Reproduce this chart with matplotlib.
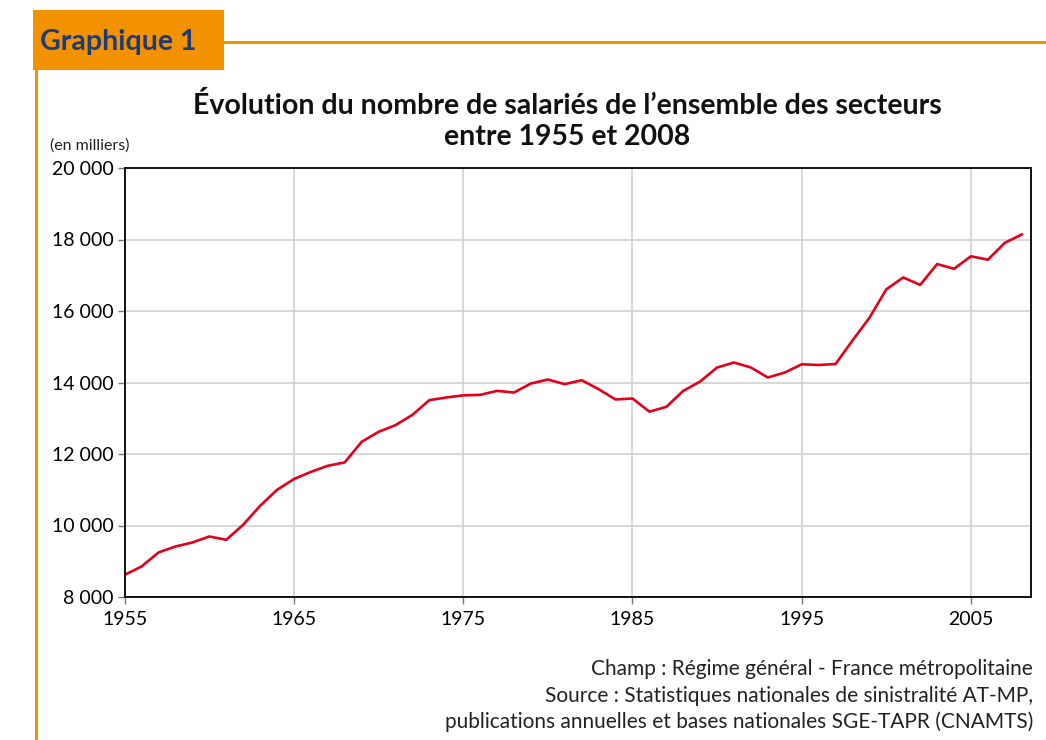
import matplotlib
matplotlib.use("Agg")
import matplotlib.pyplot as plt
from matplotlib.patches import Rectangle
from matplotlib.lines import Line2D
from matplotlib.ticker import FuncFormatter

# annual number of employees (thousands)
years = list(range(1955, 2009))
salaries = [8620, 8855, 9246, 9413, 9525, 9693, 9600, 10020, 10550, 10997,
            11300, 11500, 11670, 11765, 12341, 12620, 12807, 13095, 13506, 13581,
            13640, 13654, 13765, 13720, 13972, 14084, 13953, 14064, 13813, 13525,
            13553, 13185, 13318, 13765, 14028, 14419, 14559, 14419, 14140, 14279,
            14510, 14490, 14517, 15175, 15808, 16607, 16938, 16729, 17313, 17181,
            17531, 17435, 17907, 18141]

xticks = [1955, 1965, 1975, 1985, 1995, 2005]
yticks = [8000, 10000, 12000, 14000, 16000, 18000, 20000]

orange = "#f39200"
navy = "#1d3b78"
red = "#e3001b"
fam = ["Lato", "DejaVu Sans"]

fig = plt.figure(figsize=(10.46, 7.4), dpi=100)

# header box and orange rules
fig.add_artist(Rectangle((33/1046, 1 - 70/740), 191/1046, 60/740,
                         transform=fig.transFigure, color=orange, lw=0))
fig.add_artist(Line2D([224/1046, 1], [1 - 42/740, 1 - 42/740],
                      transform=fig.transFigure, color=orange, lw=2.2))
fig.add_artist(Line2D([35.5/1046, 35.5/1046], [0, 1 - 70/740],
                      transform=fig.transFigure, color=orange, lw=2.2))
fig.text(40/1046, 1 - 42/740, "Graphique 1", color=navy, fontsize=20.5,
         fontweight="bold", family=fam, va="center", ha="left")

fig.text(567/1046, 1 - 106/740, "Évolution du nombre de salariés de l’ensemble des secteurs",
         fontsize=20.5, fontweight="bold", family=fam,
         ha="center", va="center", color="#111111")
fig.text(567/1046, 1 - 137/740, "entre 1955 et 2008",
         fontsize=20.5, fontweight="bold", family=fam,
         ha="center", va="center", color="#111111")
fig.text(50/1046, 1 - 146/740, "(en milliers)", fontsize=11.5, family=fam,
         ha="left", va="center", color="#222222")

ax = fig.add_axes([124.7/1046, 1 - 597/740, 906/1046, 429/740])
ax.plot(years, salaries, color=red, lw=1.9, solid_joinstyle="round")
ax.set_xlim(1955, 2008.53)
ax.set_ylim(8000, 20000)
ax.set_xticks(xticks)
ax.set_yticks(yticks)
ax.yaxis.set_major_formatter(FuncFormatter(lambda v, p: f"{int(v):,}".replace(",", " ")))
ax.grid(True, color="#d4d4d4", lw=1.3)
ax.set_axisbelow(True)
for s in ax.spines.values():
    s.set_color("#111111")
    s.set_linewidth(1.4)
ax.tick_params(axis="both", length=5, width=1, color="#777777", labelsize=14)
ax.tick_params(axis="y", pad=3)
ax.tick_params(axis="x", pad=5)
for lab in ax.get_xticklabels() + ax.get_yticklabels():
    lab.set_family(fam)

footer = ["Champ : Régime général - France métropolitaine",
          "Source : Statistiques nationales de sinistralité AT-MP,",
          "publications annuelles et bases nationales SGE-TAPR (CNAMTS)"]
for i, line in enumerate(footer):
    fig.text(1033/1046, 1 - (669 + 26.5*i)/740, line, fontsize=15, family=fam,
             ha="right", va="center", color="#222222")

fig.savefig("out.png", dpi=100)
